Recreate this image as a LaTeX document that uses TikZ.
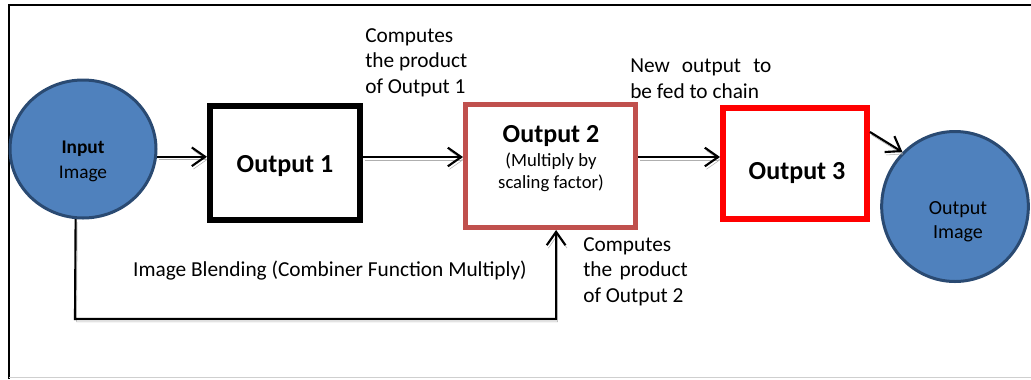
\documentclass[tikz,border=0pt]{standalone}
\usepackage{fontspec}
\setmainfont{Carlito}
\usetikzlibrary{arrows.meta,positioning,calc,shapes.geometric}
\definecolor{CircleBlue}{HTML}{4F81BD}
\definecolor{CircleEdge}{HTML}{2A4A72}
\definecolor{BoxRose}{HTML}{C0504D}
\definecolor{ShadowGray}{RGB}{175,175,175}

\begin{document}
\begin{tikzpicture}[x=0.75pt,y=-0.75pt,
    imgnode/.style={ellipse,draw=CircleEdge,fill=CircleBlue,
      line width=2.25pt,inner sep=0pt},
    stagebox/.style={rectangle,draw,fill=white,inner sep=0pt},
    boxtitle/.style={inner sep=0pt,anchor=base,
      font=\bfseries\fontsize{19.5}{23}\selectfont},
    note/.style={align=left,inner sep=0pt,anchor=base west,
      font=\fontsize{16}{19.1}\selectfont},
    flow/.style={-{Straight Barb[length=10pt,width=14pt]},line width=1.6pt,
      preaction={draw=ShadowGray,transform canvas={xshift=1.2pt,yshift=-2.2pt}}}
  ]
  \useasboundingbox (0,0) rectangle (1031,379);
  % frame
  \draw[line width=1.3pt] (9,379) -- (9,5) -- (1031,5);
  \draw[ShadowGray!60,line width=1pt] (9,377.5) -- (1031,377.5);

  % input and output images (base = last line)
  \node[imgnode,minimum width=109.5pt,minimum height=103.5pt] (in) at (83,149) {};
  \node[align=center,inner sep=0pt,anchor=base,
    font=\fontsize{14.5}{18.75}\selectfont] (inlbl) at (83,178)
    {\textbf{Input}\\Image};
  \node[imgnode,minimum width=110pt,minimum height=112.5pt] (outimg) at (955,206.5) {};
  \node[align=center,inner sep=0pt,anchor=base,
    font=\fontsize{15}{18}\selectfont] (outlbl) at (958,238)
    {Output\\Image};

  % stages
  \node[stagebox,line width=4.5pt,minimum width=112.5pt,minimum height=85.5pt]
    (out1) at (285,163) {};
  \node[boxtitle] (out1lbl) at (285,172.4) {Output 1};
  \node[stagebox,draw=BoxRose,line width=3.75pt,minimum width=127.5pt,
    minimum height=92.25pt] (out2) at (550.5,166) {};
  \node[align=center,inner sep=0pt,anchor=base,
    font=\fontsize{14}{16.5}\selectfont] (out2lbl) at (551,188.4)
    {{\bfseries\fontsize{19.5}{16.5}\selectfont Output 2}\\[1.5pt]
     (Multiply by\\scaling factor)};
  \node[stagebox,draw=red,line width=4.5pt,minimum width=108pt,
    minimum height=83.25pt] (out3) at (795,163.5) {};
  \node[boxtitle] (out3lbl) at (797,179.4) {Output 3};

  % notes
  \node[note] (prod1) at (365,93) {Computes\\the product\\of Output 1};
  \node[note] (chain) at (630,98)
    {New\hspace{5.5pt} output\hspace{5.5pt} to\\be fed to chain};
  \node[note] (prod2) at (583,302) {Computes\\the\hspace{2pt} product\\of Output 2};
  \node[inner sep=0pt,anchor=base,font=\fontsize{16}{19.1}\selectfont]
    (blend) at (330,276) {Image Blending (Combiner Function Multiply)};

  % connectors
  \coordinate (loop) at (75,319);
  \draw[flow] (in.-6) -- (in.-6 -| out1.west);
  \draw[flow] ([yshift=4.5pt]out1.east) -- ([yshift=4.5pt]out1.east -| out2.west);
  \draw[flow] ([yshift=6.75pt]out2.east) -- ([yshift=6.75pt]out2.east -| out3.west);
  \draw[flow] ([yshift=23.6pt]out3.east) -- (outimg.134);
  \draw[flow] (in.-96) -- (loop) -| ([xshift=4.2pt]out2.south);
\end{tikzpicture}
\end{document}
